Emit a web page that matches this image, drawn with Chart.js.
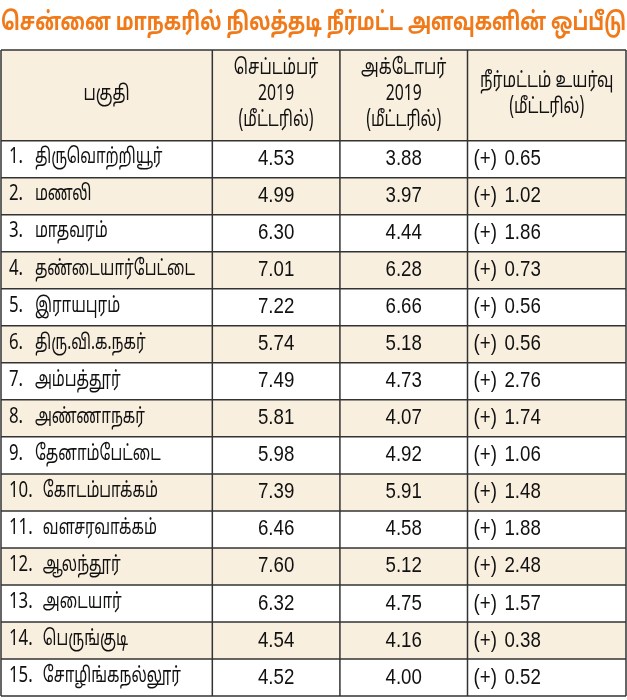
<!DOCTYPE html>
<html>
<head>
<meta charset="utf-8">
<script src="https://cdn.jsdelivr.net/npm/chart.js@4"></script>
<style>
  body { margin: 0; background: #fff; }
  #wrap { width: 627px; height: 700px; }
</style>
</head>
<body>
<div id="wrap"><canvas id="myChart" width="627" height="700"></canvas></div>
<script>
const title = "சென்னை மாநகரில் நிலத்தடி நீர்மட்ட அளவுகளின் ஒப்பீடு";
const headers = [["பகுதி"], ["செப்டம்பர்", "2019", "(மீட்டரில்)"], ["அக்டோபர்", "2019", "(மீட்டரில்)"], ["நீர்மட்டம் உயர்வு", "(மீட்டரில்)"]];
const regions = ["திருவொற்றியூர்", "மணலி", "மாதவரம்", "தண்டையார்பேட்டை", "இராயபுரம்", "திரு.வி.க.நகர்", "அம்பத்தூர்", "அண்ணாநகர்", "தேனாம்பேட்டை", "கோடம்பாக்கம்", "வளசரவாக்கம்", "ஆலந்தூர்", "அடையார்", "பெருங்குடி", "சோழிங்கநல்லூர்"];
const september = [4.53, 4.99, 6.30, 7.01, 7.22, 5.74, 7.49, 5.81, 5.98, 7.39, 6.46, 7.60, 6.32, 4.54, 4.52];
const october = [3.88, 3.97, 4.44, 6.28, 6.66, 5.18, 4.73, 4.07, 4.92, 5.91, 4.58, 5.12, 4.75, 4.16, 4.00];
const rise = [0.65, 1.02, 1.86, 0.73, 0.56, 0.56, 2.76, 1.74, 1.06, 1.48, 1.88, 2.48, 1.57, 0.38, 0.52];

// column edges and row edges in scale units
const colEdges = [0, 212, 340, 468, 627];
const headRows = 2.45;
const rowEdges = [0, headRows];
regions.forEach((r, i) => rowEdges.push(headRows + i + 1));

const tamil = "'Noto Sans Tamil', 'Liberation Sans Narrow', 'Noto Sans', sans-serif";

// draw text squeezed horizontally, like the condensed print face
function narrow(ctx, s, x, y, align, sx) {
  ctx.save();
  ctx.translate(x, y);
  ctx.scale(sx, 1);
  ctx.textAlign = align;
  ctx.fillText(s, 0, 0);
  ctx.restore();
}

const tablePlugin = {
  id: 'table',
  beforeDatasetsDraw(chart) {
    const { ctx, scales: { x, y } } = chart;
    const X = v => x.getPixelForValue(v), Y = v => y.getPixelForValue(v);
    // backgrounds
    ctx.fillStyle = '#f8efdf';
    ctx.fillRect(X(0), Y(0), X(627) - X(0), Y(headRows) - Y(0));
    regions.forEach((r, i) => {
      ctx.fillStyle = i % 2 ? '#f8efdf' : '#ffffff';
      ctx.fillRect(X(0), Y(headRows + i), X(627) - X(0), Y(headRows + i + 1) - Y(headRows + i));
    });
    // lines
    ctx.strokeStyle = '#333';
    ctx.lineWidth = 1.5;
    rowEdges.forEach(v => { ctx.beginPath(); ctx.moveTo(X(0), Y(v)); ctx.lineTo(X(627), Y(v)); ctx.stroke(); });
    colEdges.forEach(v => { ctx.beginPath(); ctx.moveTo(X(v), Y(0)); ctx.lineTo(X(v), Y(rowEdges[rowEdges.length - 1])); ctx.stroke(); });
    // header text
    ctx.fillStyle = '#111';
    ctx.textBaseline = 'middle';
    ctx.font = '21px ' + tamil;
    headers.forEach((lines, c) => {
      const cx = (X(colEdges[c]) + X(colEdges[c + 1])) / 2;
      const cy = Y(headRows / 2);
      lines.forEach((l, k) => narrow(ctx, l, cx, cy + (k - (lines.length - 1) / 2) * 26, 'center', 0.75));
    });
    // body
    regions.forEach((r, i) => {
      const cy = Y(headRows + i + 0.5);
      ctx.font = '21px ' + tamil;
      narrow(ctx, (i + 1) + '.', X(8), cy, 'left', 0.8);
      narrow(ctx, r, X(i < 9 ? 34 : 42), cy, 'left', 0.72);
      ctx.font = '22px "Liberation Sans Narrow", sans-serif';
      narrow(ctx, september[i].toFixed(2), (X(212) + X(340)) / 2, cy, 'center', 0.85);
      narrow(ctx, october[i].toFixed(2), (X(340) + X(468)) / 2, cy, 'center', 0.85);
      narrow(ctx, '(+)', X(474), cy, 'left', 0.85);
      narrow(ctx, rise[i].toFixed(2), X(505), cy, 'left', 0.85);
    });
  }
};

new Chart(document.getElementById('myChart'), {
  type: 'scatter',
  data: { datasets: [{ data: [], pointRadius: 0 }] },
  options: {
    responsive: false,
    animation: false,
    layout: { padding: { left: 1, right: 1, top: 0, bottom: 4 } },
    plugins: {
      legend: { display: false },
      tooltip: { enabled: false },
      title: {
        display: true, text: title, color: '#f07a1a',
        font: { size: 25, weight: 'bold', family: tamil },
        padding: { top: 10, bottom: 10 }
      }
    },
    scales: {
      x: { type: 'linear', min: 0, max: 627, display: false },
      y: { type: 'linear', min: 0, max: rowEdges[rowEdges.length - 1], reverse: true, display: false }
    }
  },
  plugins: [tablePlugin]
});
</script>
</body>
</html>
